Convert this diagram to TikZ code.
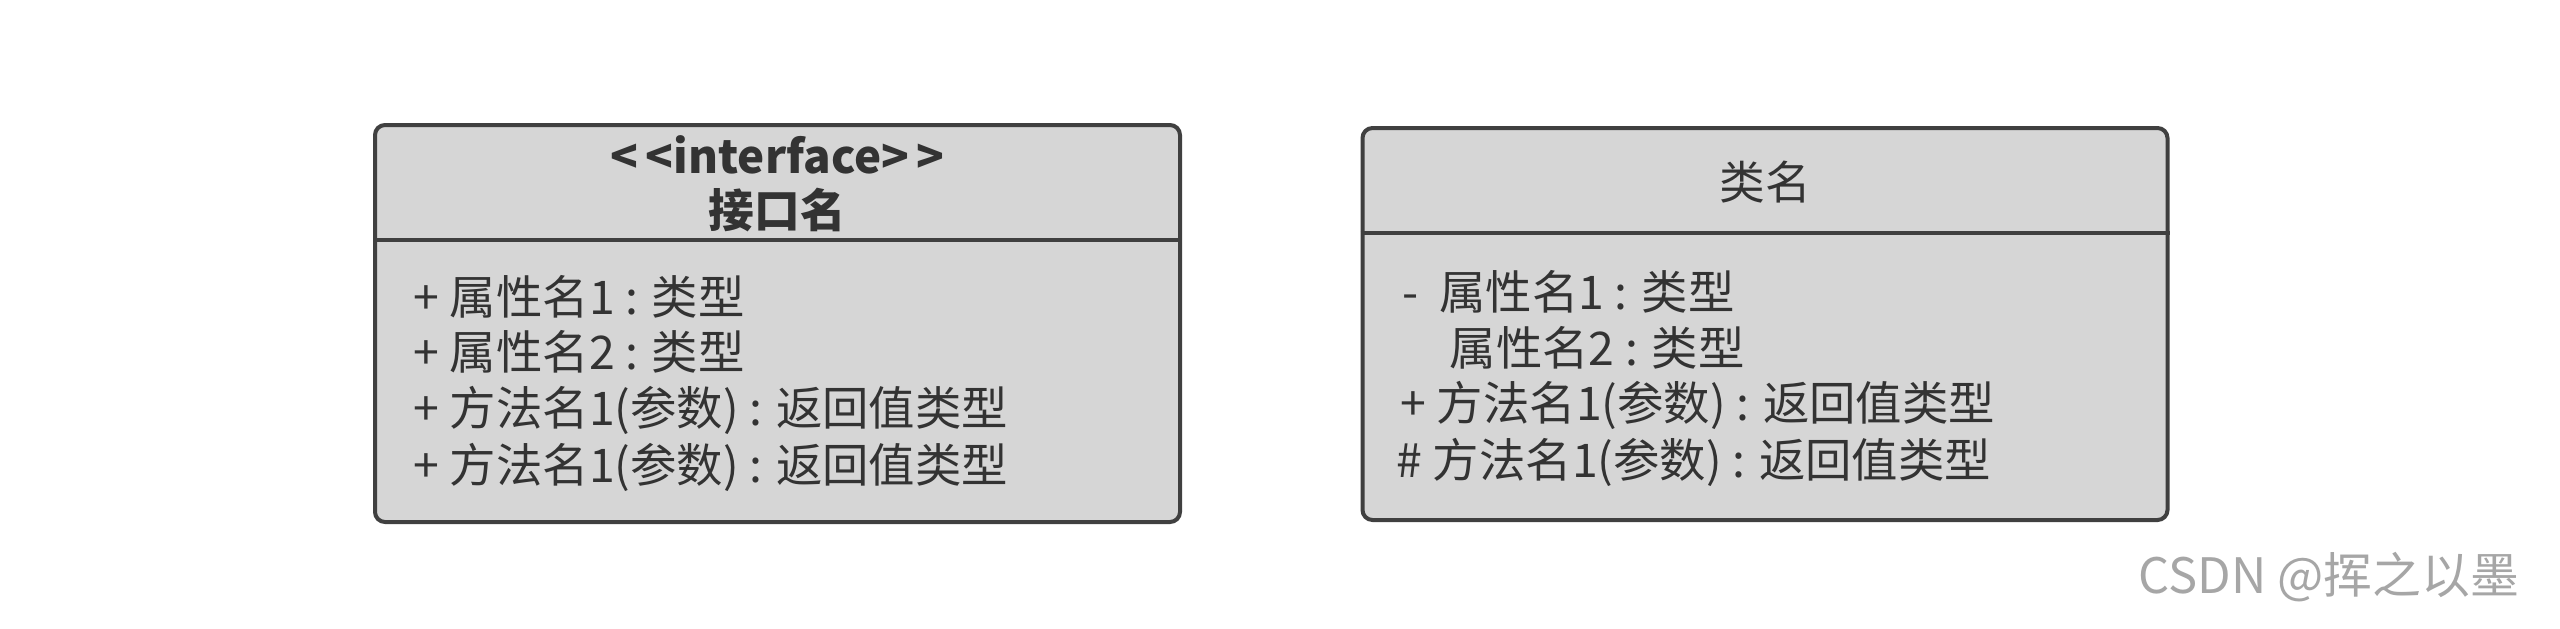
\documentclass[tikz,border=0pt]{standalone}
\usepackage{fontspec}
\setmainfont{Noto Sans CJK SC}
\usepackage{xcolor}
\definecolor{boxfill}{HTML}{D6D6D6}
\definecolor{boxline}{HTML}{404040}
\definecolor{textgray}{HTML}{333333}
\usetikzlibrary{calc}

\begin{document}
\begin{tikzpicture}[x=0.1mm, y=-0.1mm,
    classbox/.style={draw=boxline, fill=boxfill, line width=0.4mm, rounded corners=1mm, inner sep=0pt},
    member/.style={anchor=west, inner sep=0pt, text=textgray, font=\fontsize{13.2pt}{15pt}\selectfont},
    title/.style={inner sep=0pt, text=textgray, font=\fontsize{13pt}{15pt}\selectfont\bfseries}]
      \useasboundingbox (0,0) rectangle (2560,628);

      % interface
      \node[classbox, minimum width=80.5mm, minimum height=39.7mm] (iface) at (777.5,323.5) {};
      \draw[boxline, line width=0.4mm] (iface.west |- 0,240) -- (iface.east |- 0,240);
      \node[title] (ister) at (777.5,155) {{<}\,{<}interface{>}\,{>}};
      \node[title] (iname) at (777.5,210) {接口名};
      \node[member] (ia1) at (413,297) {+ 属性名1 : 类型};
      \node[member] (ia2) at (413,352) {+ 属性名2 : 类型};
      \node[member] (im1) at (413,410) {+ 方法名1(参数) : 返回值类型};
      \node[member] (im2) at (413,467) {+ 方法名1(参数) : 返回值类型};

      % class
      \node[classbox, minimum width=80.5mm, minimum height=39.2mm] (cls) at (1765,324) {};
      \draw[boxline, line width=0.4mm] (cls.west |- 0,233) -- (cls.east |- 0,233);
      \node[title, font=\fontsize{13pt}{15pt}\selectfont] (cname) at (1765,182) {类名};
      \node[member] (ca1) at (1402,292) {-\ \ 属性名1 : 类型};
      \node[member] (ca2) at (1449,348) {属性名2 : 类型};
      \node[member] (cm1) at (1400,405) {+ 方法名1(参数) : 返回值类型};
      \node[member] (cm2) at (1396,462) {\# 方法名1(参数) : 返回值类型};

      \node[anchor=east, inner sep=0pt, text=gray!70, font=\fontsize{13.9pt}{16pt}\selectfont] (mark) at (2520,577) {CSDN @挥之以墨};
\end{tikzpicture}
\end{document}
